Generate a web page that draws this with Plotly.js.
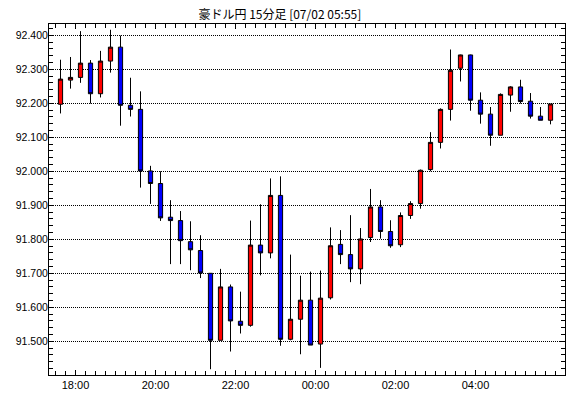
<!DOCTYPE html>
<html><head><meta charset="utf-8">
<script src="https://cdn.plot.ly/plotly-3.0.1.min.js"></script>
<style>html,body{margin:0;padding:0;background:#fff}#c{width:570px;height:398px}</style>
</head><body><div id="c"></div>
<script>
const times = [
 '2024-07-01 17:30','2024-07-01 17:45','2024-07-01 18:00','2024-07-01 18:15','2024-07-01 18:30','2024-07-01 18:45',
 '2024-07-01 19:00','2024-07-01 19:15','2024-07-01 19:30','2024-07-01 19:45','2024-07-01 20:00','2024-07-01 20:15',
 '2024-07-01 20:30','2024-07-01 20:45','2024-07-01 21:00','2024-07-01 21:15','2024-07-01 21:30','2024-07-01 21:45',
 '2024-07-01 22:00','2024-07-01 22:15','2024-07-01 22:30','2024-07-01 22:45','2024-07-01 23:00','2024-07-01 23:15',
 '2024-07-01 23:30','2024-07-01 23:45','2024-07-02 00:00','2024-07-02 00:15','2024-07-02 00:30','2024-07-02 00:45',
 '2024-07-02 01:00','2024-07-02 01:15','2024-07-02 01:30','2024-07-02 01:45','2024-07-02 02:00','2024-07-02 02:15',
 '2024-07-02 02:30','2024-07-02 02:45','2024-07-02 03:00','2024-07-02 03:15','2024-07-02 03:30','2024-07-02 03:45',
 '2024-07-02 04:00','2024-07-02 04:15','2024-07-02 04:30','2024-07-02 04:45','2024-07-02 05:00','2024-07-02 05:15',
 '2024-07-02 05:30','2024-07-02 05:45'
];
const openV = [92.197,92.268,92.276,92.318,92.228,92.324,92.365,92.194,92.182,92.001,
 91.964,91.865,91.855,91.793,91.767,91.700,91.503,91.660,91.559,91.547,
 91.783,91.760,91.929,91.506,91.565,91.621,91.492,91.628,91.785,91.755,
 91.713,91.805,91.895,91.823,91.784,91.870,91.905,92.005,92.085,92.182,
 92.303,92.342,92.209,92.168,92.106,92.224,92.248,92.206,92.162,92.150];
const highV = [92.328,92.336,92.412,92.327,92.354,92.416,92.399,92.275,92.235,92.016,
 92.000,91.915,91.883,91.853,91.812,91.701,91.713,91.667,91.646,91.855,
 91.903,91.979,91.985,91.755,91.693,91.705,91.708,91.835,91.827,91.871,
 91.833,91.948,91.915,91.856,91.879,91.912,92.005,92.115,92.185,92.358,
 92.343,92.343,92.232,92.189,92.229,92.250,92.269,92.230,92.189,92.198];
const lowV = [92.170,92.243,92.260,92.199,92.217,92.290,92.134,92.161,91.952,91.904,
 91.854,91.727,91.727,91.709,91.686,91.418,91.503,91.470,91.523,91.543,
 91.694,91.744,91.487,91.503,91.462,91.489,91.422,91.623,91.727,91.674,
 91.668,91.792,91.802,91.775,91.777,91.860,91.890,92.000,92.067,92.149,
 92.264,92.178,92.140,92.075,92.106,92.175,92.199,92.155,92.150,92.138];
const closeV = [92.271,92.276,92.318,92.228,92.324,92.365,92.194,92.182,92.001,91.964,
 91.863,91.855,91.796,91.769,91.701,91.503,91.660,91.560,91.547,91.783,
 91.760,91.929,91.506,91.565,91.621,91.489,91.627,91.781,91.755,91.713,
 91.801,91.895,91.823,91.781,91.870,91.905,92.003,92.085,92.182,92.297,
 92.342,92.209,92.168,92.106,92.226,92.248,92.205,92.162,92.150,92.198];
const xTickVals = ['2024-07-01 18:00','2024-07-01 20:00','2024-07-01 22:00','2024-07-02 00:00','2024-07-02 02:00','2024-07-02 04:00'];
const xTickText = ['18:00','20:00','22:00','00:00','02:00','04:00'];

const trace = {
  type: 'candlestick',
  x: times, open: openV, high: highV, low: lowV, close: closeV,
  xperiod: 900000, xperiodalignment: 'middle',
  increasing: {fillcolor: '#ff0000', line: {color: '#000000', width: 1}},
  decreasing: {fillcolor: '#0000ff', line: {color: '#000000', width: 1}},
  whiskerwidth: 0, hoverinfo: 'skip'
};

const layout = {
  width: 570, height: 398,
  margin: {l: 49, r: 5, t: 24, b: 23},
  paper_bgcolor: '#ffffff', plot_bgcolor: '#ffffff',
  showlegend: false,
  boxgap: 0.4,
  title: {text: '豪ドル円 15分足 [07/02 05:55]', font: {family: '"Noto Sans CJK JP", sans-serif', size: 12, color: '#000'},
          xref: 'container', x: 0.491, xanchor: 'center', yref: 'container', y: 0.962, yanchor: 'middle'},
  xaxis: {
    type: 'date', range: ['2024-07-01 17:20:15', '2024-07-02 06:14:15'],
    rangeslider: {visible: false},
    tickmode: 'array', tickvals: xTickVals, ticktext: xTickText,
    ticks: 'inside', ticklen: 5, tickcolor: '#000', tickwidth: 1,
    minor: {tickmode: 'linear', tick0: '2024-07-01 18:00', dtick: 900000, ticks: 'inside', ticklen: 4, tickcolor: '#000', tickwidth: 1, showgrid: false},
    showgrid: false, zeroline: false,
    showline: true, linecolor: '#000', linewidth: 1, mirror: 'allticks',
    tickfont: {family: '"Liberation Sans", Arial, sans-serif', size: 11, color: '#000'}
  },
  yaxis: {
    range: [91.401, 92.433], tick0: 91.5, dtick: 0.1, tickformat: '.3f',
    ticks: 'inside', ticklen: 5, tickcolor: '#000', tickwidth: 1,
    ticklabelstandoff: -2,
    minor: {dtick: 0.02, ticks: 'inside', ticklen: 4, tickcolor: '#000', tickwidth: 1, showgrid: false},
    showgrid: true, gridcolor: '#000', gridwidth: 1, griddash: '1px,1px',
    zeroline: false,
    showline: true, linecolor: '#000', linewidth: 1, mirror: 'allticks',
    tickfont: {family: '"Liberation Sans", Arial, sans-serif', size: 10.5, color: '#000'}
  }
};

Plotly.newPlot('c', [trace], layout, {displayModeBar: false, staticPlot: true});
</script></body></html>
